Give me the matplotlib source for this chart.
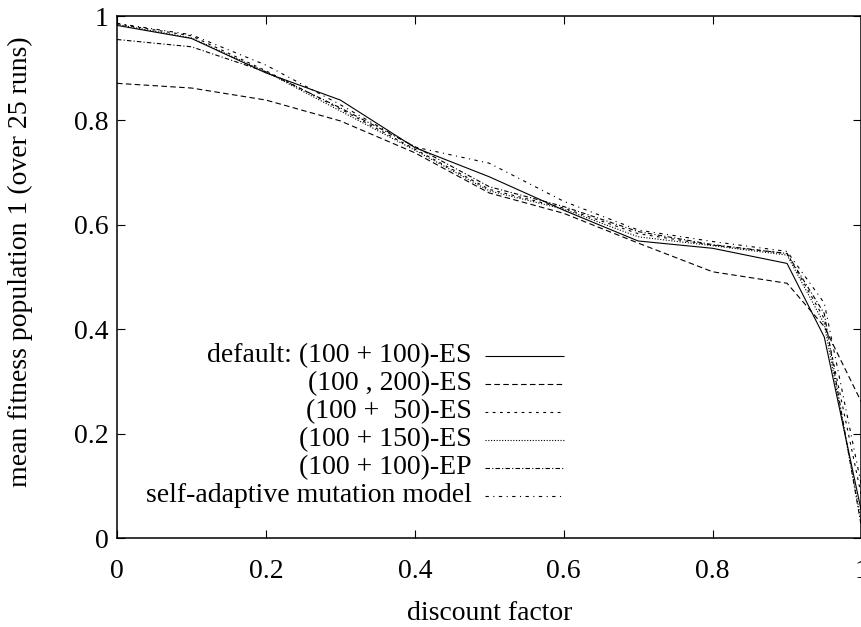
import matplotlib
matplotlib.use('Agg')
import matplotlib.pyplot as plt

# discount factor values (x) and mean fitness per setup
discount = [0, 0.1, 0.2, 0.3, 0.4, 0.5, 0.6, 0.7, 0.8, 0.9, 0.95, 1.0]
default_es = [0.982, 0.957, 0.891, 0.839, 0.748, 0.692, 0.628, 0.569, 0.555, 0.526, 0.385, 0.05]
comma_200 = [0.871, 0.862, 0.839, 0.799, 0.738, 0.661, 0.622, 0.565, 0.510, 0.488, 0.405, 0.26]
plus_50 = [0.985, 0.962, 0.895, 0.822, 0.745, 0.668, 0.632, 0.583, 0.561, 0.545, 0.42, 0.08]
plus_150 = [0.984, 0.958, 0.893, 0.818, 0.743, 0.665, 0.630, 0.577, 0.560, 0.542, 0.41, 0.03]
plus_ep = [0.955, 0.941, 0.893, 0.824, 0.750, 0.673, 0.635, 0.587, 0.562, 0.545, 0.43, 0.02]
self_adapt = [0.986, 0.964, 0.906, 0.830, 0.749, 0.718, 0.645, 0.590, 0.568, 0.549, 0.45, 0.10]

labels = ['default: (100 + 100)-ES', '(100 , 200)-ES', '(100 +  50)-ES',
          '(100 + 150)-ES', '(100 + 100)-EP', 'self-adaptive mutation model']
ticks = [0, 0.2, 0.4, 0.6, 0.8, 1]
tick_labels = ['0', '0.2', '0.4', '0.6', '0.8', '1']

series = [default_es, comma_200, plus_50, plus_150, plus_ep, self_adapt]
# gnuplot-like dash patterns (in points, lw scaled)
styles = [
    (0, ()),
    (0, (5, 3)),
    (0, (2.5, 4)),
    (0, (1, 1.5)),
    (0, (4, 2, 1, 2)),
    (0, (3, 4, 1, 4)),
]

plt.rcParams['font.family'] = ['Liberation Serif', 'DejaVu Serif']
plt.rcParams['font.size'] = 20

fig = plt.figure(figsize=(8.62, 6.27), dpi=100)
ax = fig.add_axes([117 / 862, 89 / 627, 744.5 / 862, 522 / 627])

for vals, ls in zip(series, styles):
    ax.plot(discount, vals, color='black', lw=0.8, linestyle=ls)

ax.set_xlim(0, 1)
ax.set_ylim(0, 1)
ax.set_xticks(ticks)
ax.set_xticklabels(tick_labels)
ax.set_yticks(ticks)
ax.set_yticklabels(tick_labels)
ax.tick_params(direction='in', length=6, width=0.8, top=True, right=True)
ax.tick_params(axis='x', pad=15)
ax.tick_params(axis='y', pad=6)
for sp in ax.spines.values():
    sp.set_linewidth(1.1)

ax.set_xlabel('discount factor', labelpad=12)
ax.set_ylabel('mean fitness population 1 (over 25 runs)')
ax.yaxis.set_label_coords(-0.113, 0.529)

# key, gnuplot style: text right-aligned, sample line on the right
row_y = [0.3487, 0.2950, 0.2414, 0.1877, 0.1341, 0.0805]
for lab, ls, yy in zip(labels, styles, row_y):
    ax.text(0.4765, yy, lab, ha='right', va='center', transform=ax.transAxes)
    ax.plot([0.494, 0.601], [yy, yy], color='black', lw=0.8, linestyle=ls,
            transform=ax.transAxes)

fig.savefig('out.png', dpi=100)
